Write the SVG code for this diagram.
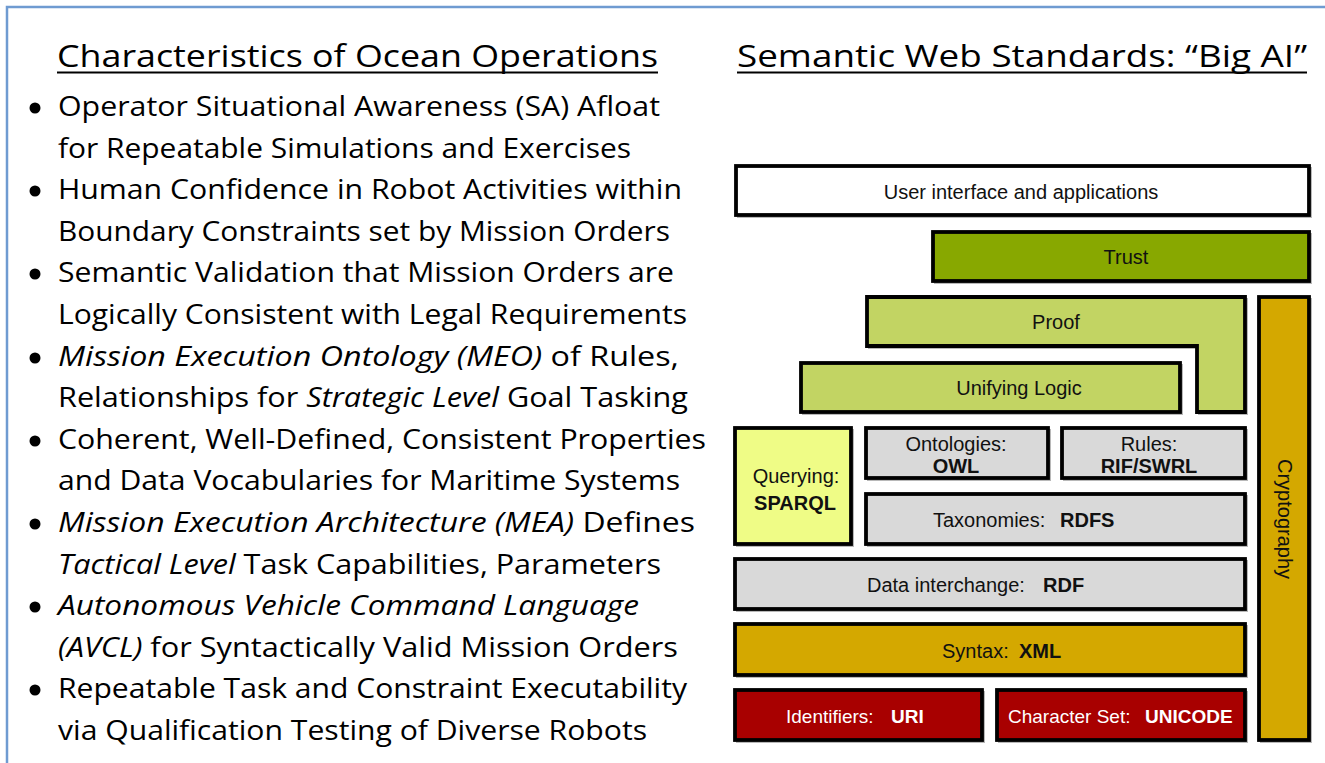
<svg xmlns="http://www.w3.org/2000/svg" width="1325" height="763" viewBox="0 0 1325 763">
<style>
.frame{fill:none;stroke:#6f9bd1;stroke-width:2.5}
.hd{font-family:"Open Sans","Noto Sans","Liberation Sans",sans-serif;font-size:31px;fill:#000}
.bl{font-family:"Open Sans","Noto Sans","Liberation Sans",sans-serif;font-size:28px;fill:#000}
.it{font-style:italic}
.ul{stroke:#000;stroke-width:2}
.box{stroke:#000;stroke-width:3.8}
.sh{fill:none;stroke:#b8b8b8;stroke-width:2}
.lb{font-family:"Liberation Sans",Arial,sans-serif;font-size:20px;fill:#111;text-anchor:middle}
.ls{font-family:"Liberation Sans",Arial,sans-serif;font-size:20px;fill:#111}
.sm{font-size:19px}
.b{font-weight:bold}
.w{fill:#fff}
.white{fill:#ffffff}.trust{fill:#88a800}.lg{fill:#c2d463}.gold{fill:#d4a800}.qy{fill:#effc86}.gray{fill:#d9d9d9}.red{fill:#a80000}
</style>
<rect x="0" y="0" width="1325" height="763" fill="#fff"/>
<path class="frame" d="M7,763 V7 H1325"/>

<g id="left-title">
<text class="hd" x="57" y="67" textLength="601" lengthAdjust="spacingAndGlyphs">Characteristics of Ocean Operations</text>
<line class="ul" x1="57" y1="72.5" x2="658" y2="72.5"/>
</g>
<g id="right-title">
<text class="hd" x="737" y="67" textLength="570" lengthAdjust="spacingAndGlyphs">Semantic Web Standards: “Big AI”</text>
<line class="ul" x1="737" y1="72.5" x2="1307" y2="72.5"/>
</g>

<g id="bullets">
<circle cx="35" cy="108" r="5.5"/>
<circle cx="35" cy="191" r="5.5"/>
<circle cx="35" cy="274" r="5.5"/>
<circle cx="35" cy="358" r="5.5"/>
<circle cx="35" cy="441" r="5.5"/>
<circle cx="35" cy="524" r="5.5"/>
<circle cx="35" cy="607" r="5.5"/>
<circle cx="35" cy="690" r="5.5"/>
<text class="bl" x="58" y="116" textLength="602" lengthAdjust="spacingAndGlyphs">Operator Situational Awareness (SA) Afloat</text>
<text class="bl" x="58" y="158" textLength="573" lengthAdjust="spacingAndGlyphs">for Repeatable Simulations and Exercises</text>
<text class="bl" x="58" y="199" textLength="624" lengthAdjust="spacingAndGlyphs">Human Confidence in Robot Activities within</text>
<text class="bl" x="58" y="241" textLength="612" lengthAdjust="spacingAndGlyphs">Boundary Constraints set by Mission Orders</text>
<text class="bl" x="58" y="282" textLength="616" lengthAdjust="spacingAndGlyphs">Semantic Validation that Mission Orders are</text>
<text class="bl" x="58" y="324" textLength="629" lengthAdjust="spacingAndGlyphs">Logically Consistent with Legal Requirements</text>
<text class="bl" x="58" y="366" textLength="621" lengthAdjust="spacingAndGlyphs"><tspan class="it">Mission Execution Ontology (MEO)</tspan> of Rules,</text>
<text class="bl" x="58" y="407" textLength="630" lengthAdjust="spacingAndGlyphs">Relationships for <tspan class="it">Strategic Level</tspan> Goal Tasking</text>
<text class="bl" x="58" y="449" textLength="648" lengthAdjust="spacingAndGlyphs">Coherent, Well-Defined, Consistent Properties</text>
<text class="bl" x="58" y="490" textLength="622" lengthAdjust="spacingAndGlyphs">and Data Vocabularies for Maritime Systems</text>
<text class="bl" x="58" y="532" textLength="637" lengthAdjust="spacingAndGlyphs"><tspan class="it">Mission Execution Architecture (MEA)</tspan> Defines</text>
<text class="bl" x="58" y="574" textLength="603" lengthAdjust="spacingAndGlyphs"><tspan class="it">Tactical Level</tspan> Task Capabilities, Parameters</text>
<text class="bl it" x="58" y="615" textLength="581" lengthAdjust="spacingAndGlyphs">Autonomous Vehicle Command Language</text>
<text class="bl" x="58" y="657" textLength="620" lengthAdjust="spacingAndGlyphs"><tspan class="it">(AVCL)</tspan> for Syntactically Valid Mission Orders</text>
<text class="bl" x="58" y="698" textLength="629" lengthAdjust="spacingAndGlyphs">Repeatable Task and Constraint Executability</text>
<text class="bl" x="58" y="740" textLength="589" lengthAdjust="spacingAndGlyphs">via Qualification Testing of Diverse Robots</text>
</g>

<g id="connectors"></g>

<g id="ui">
<rect class="sh" x="738" y="168" width="573" height="49"/>
<rect class="box white" x="736" y="166" width="573" height="49"/>
<text class="lb" x="1021" y="199">User interface and applications</text>
</g>
<g id="trust">
<rect class="sh" x="935" y="234" width="376" height="49"/>
<rect class="box trust" x="933" y="232" width="376" height="49"/>
<text class="lb" x="1126" y="264">Trust</text>
</g>
<g id="proof">
<path class="sh" d="M869,299 H1247 V414 H1199 V348 H869 Z"/>
<path class="box lg" d="M867,297 H1245 V412 H1197 V346 H867 Z"/>
<text class="lb" x="1056" y="329">Proof</text>
</g>
<g id="unifying-logic">
<rect class="sh" x="803" y="365" width="379" height="49"/>
<rect class="box lg" x="801" y="363" width="379" height="49"/>
<text class="lb" x="1019" y="395">Unifying Logic</text>
</g>
<g id="cryptography">
<rect class="sh" x="1261" y="299" width="50" height="443"/>
<rect class="box gold" x="1259" y="297" width="50" height="443"/>
<text class="lb" transform="translate(1278,519) rotate(90)">Cryptography</text>
</g>
<g id="querying">
<rect class="sh" x="737" y="430" width="116" height="116"/>
<rect class="box qy" x="735" y="428" width="116" height="116"/>
<text class="lb" x="796" y="483">Querying:</text>
<text class="lb b" x="795" y="510">SPARQL</text>
</g>
<g id="ontologies">
<rect class="sh" x="868" y="430" width="182" height="50"/>
<rect class="box gray" x="866" y="428" width="182" height="50"/>
<text class="lb" x="956" y="451">Ontologies:</text>
<text class="lb b" x="956" y="473">OWL</text>
</g>
<g id="rules">
<rect class="sh" x="1064" y="430" width="183" height="50"/>
<rect class="box gray" x="1062" y="428" width="183" height="50"/>
<text class="lb" x="1149" y="451">Rules:</text>
<text class="lb b" x="1149" y="473">RIF/SWRL</text>
</g>
<g id="taxonomies">
<rect class="sh" x="868" y="496" width="379" height="50"/>
<rect class="box gray" x="866" y="494" width="379" height="50"/>
<text class="ls" x="933" y="527">Taxonomies:<tspan class="b" x="1060">RDFS</tspan></text>
</g>
<g id="data-interchange">
<rect class="sh" x="737" y="561" width="510" height="50"/>
<rect class="box gray" x="735" y="559" width="510" height="50"/>
<text class="ls" x="867" y="592">Data interchange:<tspan class="b" x="1043">RDF</tspan></text>
</g>
<g id="syntax">
<rect class="sh" x="737" y="626" width="510" height="51"/>
<rect class="box gold" x="735" y="624" width="510" height="51"/>
<text class="ls" x="942" y="658">Syntax:<tspan class="b" x="1019">XML</tspan></text>
</g>
<g id="identifiers">
<rect class="sh" x="737" y="692" width="247" height="50"/>
<rect class="box red" x="735" y="690" width="247" height="50"/>
<text class="ls w sm" x="786" y="723">Identifiers:<tspan class="b" x="891">URI</tspan></text>
</g>
<g id="character-set">
<rect class="sh" x="999" y="692" width="248" height="50"/>
<rect class="box red" x="997" y="690" width="248" height="50"/>
<text class="ls w sm" x="1008" y="723">Character Set:<tspan class="b" x="1145">UNICODE</tspan></text>
</g>
</svg>
